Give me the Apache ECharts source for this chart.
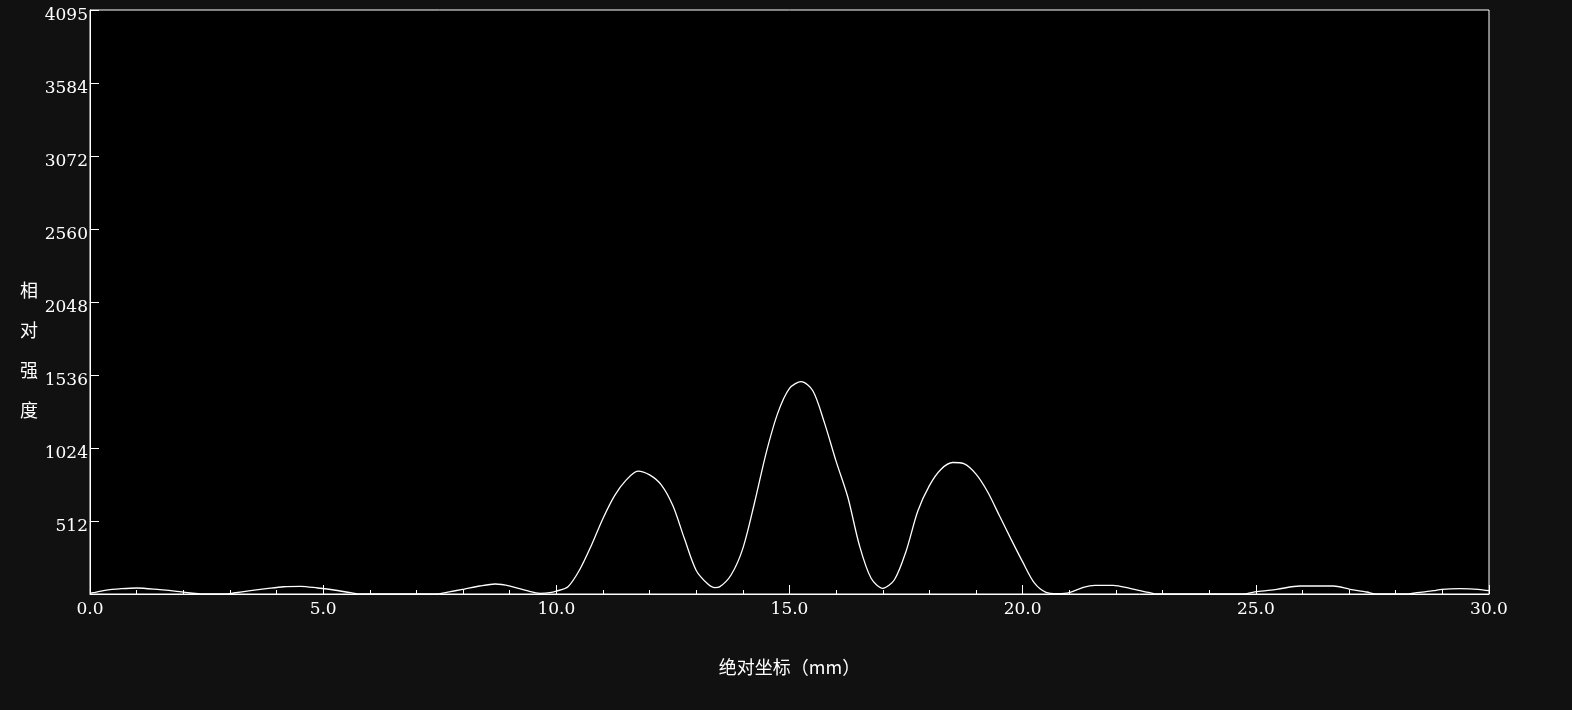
<!DOCTYPE html>
<html>
	<head>
		<meta charset="utf-8">
		<title>intensity</title>
		<script src="https://cdn.jsdelivr.net/npm/echarts@6/dist/echarts.min.js"></script>
		<style>
			html, body { margin: 0; padding: 0; background: #111; }
		</style>
	</head>
	<body>
		<div id="box" style="width: 1572px;height: 710px;"></div>
		<script>

			var mCharts = echarts.init(document.querySelector('#box'))

			// 绝对坐标 (mm)
			var positionMm = [
				0.00, 0.11, 0.32, 0.68, 1.00, 1.50, 1.86, 2.15, 2.40, 2.90,
				3.08, 3.44, 3.78, 4.15, 4.52, 4.88, 5.23, 5.59, 5.80, 7.40,
				7.51, 8.01, 8.36, 8.69, 9.01, 9.37, 9.65, 9.86,
				10.00, 10.25, 10.50, 10.75, 11.00, 11.25, 11.50, 11.75, 12.00, 12.25,
				12.50, 12.75, 13.00, 13.25, 13.40, 13.50, 13.75, 14.00, 14.25, 14.50,
				14.75, 15.00, 15.25, 15.50, 15.75, 16.00, 16.25, 16.50, 16.75, 17.00,
				17.25, 17.50, 17.75, 18.00, 18.25, 18.50, 18.75, 19.00, 19.25, 19.50,
				19.75, 20.00, 20.25, 20.50, 20.75, 21.00,
				21.30, 21.55, 21.94, 22.30, 22.73, 22.88,
				24.70, 24.81, 25.02, 25.45, 25.95, 26.66, 27.02, 27.38, 27.56, 28.27,
				28.45, 28.81, 28.99, 29.38, 29.77, 30.00
			]

			// 相对强度
			var intensity = [
				5, 12, 26, 37, 42, 30, 19, 7, 0, 0,
				7, 23, 37, 51, 54, 42, 28, 9, 0, 0,
				3, 33, 56, 70, 56, 23, 5, 9,
				20, 51, 170, 340, 530, 690, 800, 862, 835, 765,
				618, 385, 165, 70, 45, 50, 135, 320, 640, 990,
				1270, 1442, 1489, 1425, 1200, 930, 680, 340, 110, 40,
				100, 300, 580, 760, 875, 922, 912, 840, 715, 550,
				385, 225, 78, 12, 3, 10,
				47, 61, 61, 40, 9, 0,
				0, 3, 16, 33, 56, 56, 33, 14, 0, 0,
				9, 23, 33, 37, 33, 23
			]

			// y 轴刻度
			var yTickValues = [512, 1024, 1536, 2048, 2560, 3072, 3584, 4095]

			var lineData = positionMm.map(function(x, i) {
				return [x, intensity[i]]
			})

			var numFont = 'DejaVu Serif'
			var cjkFont = 'Noto Sans CJK SC'

			var option = {
				backgroundColor: '#111',
				animation: false,
				grid: {
					left: 90,
					right: 83,
					top: 10,
					bottom: 116,
					show: true,
					backgroundColor: '#000',
					borderColor: '#fff',
					borderWidth: 1
				},
				xAxis: {
					type: 'value',
					min: 0,
					max: 30,
					interval: 5,
					name: '绝对坐标（mm）',
					nameLocation: 'middle',
					nameGap: 64,
					nameTextStyle: {
						color: '#fff',
						fontFamily: cjkFont,
						fontSize: 18
					},
					axisLine: { lineStyle: { color: '#fff', width: 1 } },
					axisTick: { inside: true, length: 9, lineStyle: { color: '#fff' } },
					minorTick: { show: true, splitNumber: 5, length: 4, lineStyle: { color: '#fff' } },
					splitLine: { show: false },
					axisLabel: {
						color: '#fff',
						fontFamily: numFont,
						fontSize: 17,
						margin: 7,
						formatter: function(v) {
							return v.toFixed(1)
						}
					}
				},
				yAxis: {
					type: 'value',
					min: 0,
					max: 4095,
					axisLine: { show: true, lineStyle: { color: '#fff', width: 1 } },
					axisTick: {
						show: true,
						inside: true,
						length: 9,
						customValues: yTickValues,
						lineStyle: { color: '#fff' }
					},
					splitLine: { show: false },
					axisLabel: {
						color: '#fff',
						fontFamily: numFont,
						fontSize: 17,
						margin: 2,
						verticalAlign: 'top',
						lineHeight: 11,
						customValues: yTickValues,
						formatter: function(v) {
							return String(v)
						}
					}
				},
				graphic: [
					{
						type: 'text',
						left: 20,
						top: 270,
						style: {
							text: '相\n对\n强\n度',
							fill: '#fff',
							font: '18px "Noto Sans CJK SC"',
							lineHeight: 40
						}
					}
				],
				series: [
					{
						type: 'line',
						data: lineData,
						showSymbol: false,
						smooth: 0.3,
						lineStyle: { color: '#fff', width: 1.3 }
					}
				]
			}
			mCharts.setOption(option)

		</script>
	</body>
</html>
